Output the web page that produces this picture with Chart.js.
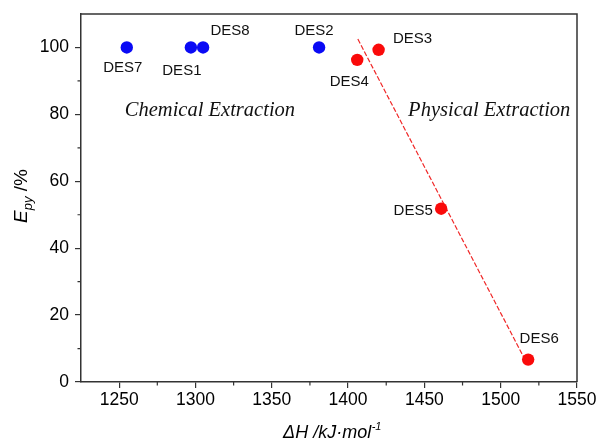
<!DOCTYPE html>
<html>
<head>
<meta charset="utf-8">
<script src="https://cdn.jsdelivr.net/npm/chart.js@4.4.1/dist/chart.umd.min.js"></script>
<style>
html,body{margin:0;padding:0;background:#fff;}
#wrap{width:598px;height:445px;position:relative;}
</style>
</head>
<body>
<div id="wrap"><canvas id="c" width="598" height="445"></canvas></div>
<script>
// ---- data ----
const blueLabels = ['DES7', 'DES1', 'DES8', 'DES2'];
const blueX = [1255, 1297, 1305, 1381];
const blueY = [100, 100, 100, 100];
const redLabels = ['DES4', 'DES3', 'DES5', 'DES6'];
const redX = [1406, 1420, 1461, 1518];
const redY = [96.3, 99.3, 51.8, 6.7];
const fitX = [1406.4, 1515];
const fitY = [102.5, 7.5];
const xTicks = [1250, 1300, 1350, 1400, 1450, 1500, 1550];
const xMinorTicks = [1275, 1325, 1375, 1425, 1475, 1525];
const yTicks = [0, 20, 40, 60, 80, 100];
const yMinorTicks = [10, 30, 50, 70, 90];
const regionNames = ['Chemical Extraction', 'Physical Extraction'];
const regionX = [1309.5, 1492.5];
const regionY = [81.1, 81.1];

// ---- styles (label offsets in px) ----
const blueOffsets = [[-4, 20], [-9, 23], [27, -17], [-5, -17]];
const redOffsets = [[-8, 22], [34, -11], [-28, 2], [11, -21]];
const AXIS = '#333';
const SANS = '"Liberation Sans", Arial, sans-serif';
const SERIF = '"Liberation Serif", "Times New Roman", serif';

const toPts = (xs, ys) => xs.map((x, i) => ({x: x, y: ys[i]}));

const extras = {
  id: 'extras',
  afterDraw(chart) {
    const ctx = chart.ctx;
    const a = chart.chartArea;
    const xs = chart.scales.x, ys = chart.scales.y;
    ctx.save();
    // top & right border
    ctx.strokeStyle = AXIS;
    ctx.lineWidth = 1.5;
    ctx.beginPath();
    ctx.moveTo(a.left, a.top);
    ctx.lineTo(a.right, a.top);
    ctx.lineTo(a.right, a.bottom);
    ctx.stroke();
    // minor ticks
    ctx.lineWidth = 1.2;
    ctx.beginPath();
    xMinorTicks.forEach(v => {
      const px = xs.getPixelForValue(v);
      ctx.moveTo(px, a.bottom);
      ctx.lineTo(px, a.bottom + 3.5);
    });
    yMinorTicks.forEach(v => {
      const py = ys.getPixelForValue(v);
      ctx.moveTo(a.left, py);
      ctx.lineTo(a.left - 3.5, py);
    });
    ctx.stroke();
    // point labels
    ctx.fillStyle = '#111';
    ctx.font = '15px ' + SANS;
    ctx.textAlign = 'center';
    ctx.textBaseline = 'middle';
    const drawLabels = (dsIndex, labels, offs) => {
      const meta = chart.getDatasetMeta(dsIndex);
      meta.data.forEach((el, i) => {
        ctx.fillText(labels[i], el.x + offs[i][0], el.y + offs[i][1]);
      });
    };
    drawLabels(0, blueLabels, blueOffsets);
    drawLabels(1, redLabels, redOffsets);
    // region annotations
    ctx.font = 'italic 20.5px ' + SERIF;
    ctx.fillStyle = '#111';
    regionNames.forEach((t, i) => {
      ctx.fillText(t, xs.getPixelForValue(regionX[i]), ys.getPixelForValue(regionY[i]));
    });
    // x title: ΔH /kJ·mol^-1
    ctx.textAlign = 'left';
    ctx.textBaseline = 'alphabetic';
    const mainX = 'ΔH /kJ·mol';
    const supX = '-1';
    ctx.font = 'italic 18px ' + SANS;
    const w1 = ctx.measureText(mainX).width;
    ctx.font = 'italic 11px ' + SANS;
    const w2 = ctx.measureText(supX).width;
    const cx = (a.left + a.right) / 2 + 3;
    let sx = cx - (w1 + w2) / 2;
    ctx.fillStyle = '#000';
    ctx.font = 'italic 18px ' + SANS;
    ctx.fillText(mainX, sx, 438);
    ctx.font = 'italic 11px ' + SANS;
    ctx.fillText(supX, sx + w1 + 0.5, 430);
    // y title: E_py /%
    ctx.save();
    ctx.translate(27, 196);
    ctx.rotate(-Math.PI / 2);
    ctx.font = 'italic 19px ' + SANS;
    const e1 = ctx.measureText('E').width;
    ctx.font = 'italic 13px ' + SANS;
    const e2 = ctx.measureText('py').width;
    ctx.font = '19px ' + SANS;
    const e3 = ctx.measureText(' /%').width;
    let ex = -(e1 + e2 + e3) / 2;
    ctx.font = 'italic 19px ' + SANS;
    ctx.fillText('E', ex, 0);
    ctx.font = 'italic 13px ' + SANS;
    ctx.fillText('py', ex + e1, 5);
    ctx.font = '19px ' + SANS;
    ctx.fillText(' /%', ex + e1 + e2, 0);
    ctx.restore();
    ctx.restore();
  }
};

new Chart(document.getElementById('c'), {
  type: 'scatter',
  data: {
    datasets: [
      {
        data: toPts(blueX, blueY),
        backgroundColor: 'rgb(10,10,245)',
        borderWidth: 0,
        pointRadius: 6.2,
        pointHoverRadius: 6.2
      },
      {
        data: toPts(redX, redY),
        backgroundColor: 'rgb(250,10,10)',
        borderWidth: 0,
        pointRadius: 6.2,
        pointHoverRadius: 6.2
      },
      {
        type: 'line',
        data: toPts(fitX, fitY),
        borderColor: 'rgb(240,40,40)',
        borderWidth: 1.2,
        borderDash: [5, 2],
        pointRadius: 0,
        fill: false
      }
    ]
  },
  options: {
    responsive: false,
    animation: false,
    devicePixelRatio: 1,
    layout: {padding: {left: 0, top: 14, right: 21, bottom: 0}},
    plugins: {legend: {display: false}, tooltip: {enabled: false}},
    scales: {
      x: {
        type: 'linear',
        min: 1225,
        max: 1550,
        afterBuildTicks: s => { s.ticks = xTicks.map(v => ({value: v})); },
        afterFit: s => { s.height = 63; s.paddingLeft = 0; s.paddingRight = 0; },
        ticks: {color: '#000', font: {family: SANS, size: 17.5}, padding: 2, maxRotation: 0, autoSkip: false,
                callback: v => String(v)},
        grid: {display: true, drawOnChartArea: false, drawTicks: true, tickLength: 6, color: AXIS, lineWidth: 1.2},
        border: {display: true, color: AXIS, width: 1.5}
      },
      y: {
        type: 'linear',
        min: 0,
        max: 110,
        afterBuildTicks: s => { s.ticks = yTicks.map(v => ({value: v})); },
        afterFit: s => { s.width = 81; s.paddingTop = 0; s.paddingBottom = 0; },
        ticks: {color: '#000', font: {family: SANS, size: 17.5}, padding: 6, autoSkip: false,
                callback: v => String(v)},
        grid: {display: true, drawOnChartArea: false, drawTicks: true, tickLength: 6, color: AXIS, lineWidth: 1.2},
        border: {display: true, color: AXIS, width: 1.5}
      }
    }
  },
  plugins: [extras]
});
</script>
</body>
</html>
